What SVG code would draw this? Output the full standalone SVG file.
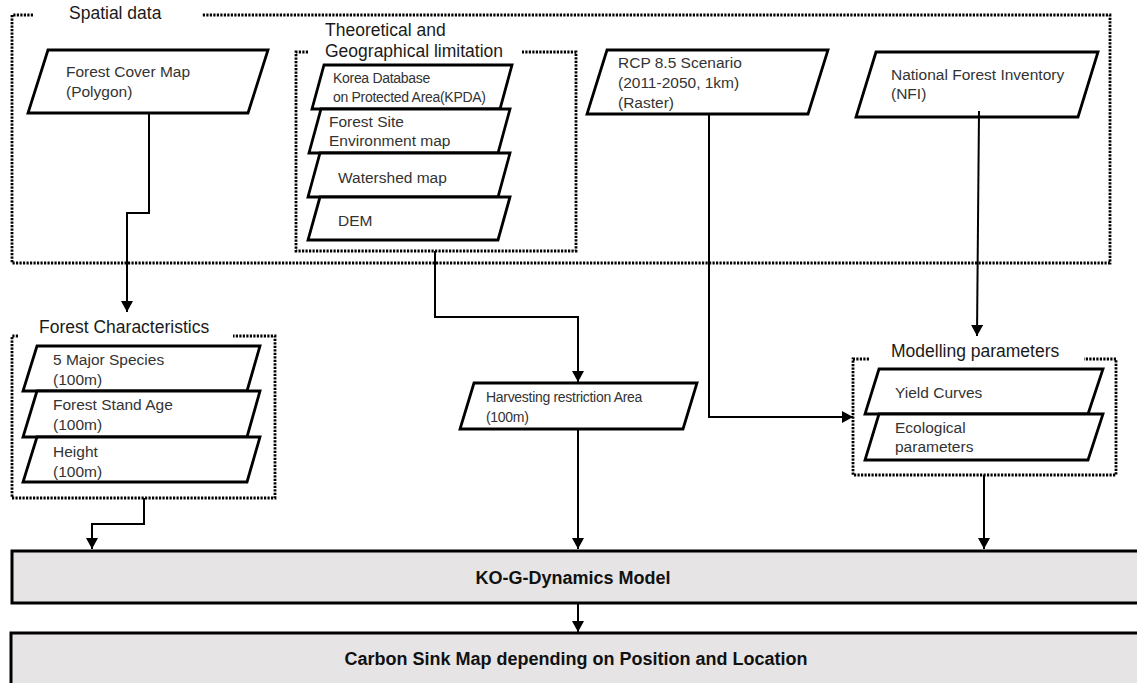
<svg xmlns="http://www.w3.org/2000/svg" width="1137" height="683" viewBox="0 0 1137 683">
<style>
.grp{fill:none;stroke:#000;stroke-width:2.8;stroke-dasharray:2.2 1.3}
.par{fill:#fff;stroke:#000;stroke-width:2.8;stroke-linejoin:miter}
.ttl{font-family:"Liberation Sans",Arial,sans-serif;font-size:17.5px;fill:#1a1a1a}
.t{font-family:"Liberation Sans",Arial,sans-serif;font-size:15.5px;fill:#333}
.ts{font-family:"Liberation Sans",Arial,sans-serif;font-size:14px;fill:#333;letter-spacing:-0.3px}
.main{fill:#e6e4e5;stroke:#000;stroke-width:3}
.tb{font-family:"Liberation Sans",Arial,sans-serif;font-size:18px;font-weight:bold;fill:#111;text-anchor:middle}
.c{fill:none;stroke:#000;stroke-width:2}
</style>
<defs>
<marker id="arr" markerUnits="userSpaceOnUse" markerWidth="11" markerHeight="12" refX="11" refY="6" orient="auto">
<path d="M0,0 L11,6 L0,12 z" fill="#000"/>
</marker>
</defs>

<g id="spatial-data">
<path class="grp" d="M33 15 H12 V263 H1110 V15 H202"/>
<text class="ttl" x="69" y="19">Spatial data</text>
</g>

<g id="forest-cover-map">
<polygon class="par" points="48,50 268,50 248,113 28,113"/>
<text class="t" x="66" y="77">Forest Cover Map</text>
<text class="t" x="66" y="97">(Polygon)</text>
</g>

<g id="theoretical-geographical-limitation">
<path class="grp" d="M308 52 H296 V251 H576 V52 H522"/>
<text class="ttl" x="325" y="36">Theoretical and</text>
<text class="ttl" x="325" y="57">Geographical limitation</text>
</g>

<g id="kpda">
<polygon class="par" points="324,65 512,65 500,109 312,109"/>
<text class="ts" x="333" y="83">Korea Database</text>
<text class="ts" x="333" y="102">on Protected Area(KPDA)</text>
</g>

<g id="forest-site-map">
<polygon class="par" points="321,109 510,109 498,153 309,153"/>
<text class="t" x="329" y="127">Forest Site</text>
<text class="t" x="329" y="146">Environment map</text>
</g>

<g id="watershed-map">
<polygon class="par" points="320,153 510,153 498,197 308,197"/>
<text class="t" x="338" y="183">Watershed map</text>
</g>

<g id="dem">
<polygon class="par" points="320,197 510,197 498,240 308,240"/>
<text class="t" x="338" y="226">DEM</text>
</g>

<g id="rcp-scenario">
<polygon class="par" points="607,50 828,50 808,114 587,114"/>
<text class="t" x="618" y="68">RCP 8.5 Scenario</text>
<text class="t" x="618" y="88">(2011-2050, 1km)</text>
<text class="t" x="618" y="108">(Raster)</text>
</g>

<g id="nfi">
<polygon class="par" points="876,52 1098,52 1078,117 856,117"/>
<text class="t" x="891" y="80">National Forest Inventory</text>
<text class="t" x="891" y="99">(NFI)</text>
</g>

<g id="forest-characteristics">
<path class="grp" d="M18 336 H12 V498 H275 V336 H233"/>
<text class="ttl" x="39" y="333">Forest Characteristics</text>
</g>

<g id="major-species">
<polygon class="par" points="37,346 260,346 247,391 23,391"/>
<text class="t" x="53" y="365">5 Major Species</text>
<text class="t" x="53" y="385">(100m)</text>
</g>

<g id="stand-age">
<polygon class="par" points="37,391 260,391 247,437 23,437"/>
<text class="t" x="53" y="410">Forest Stand Age</text>
<text class="t" x="53" y="430">(100m)</text>
</g>

<g id="height">
<polygon class="par" points="37,437 260,437 247,482 23,482"/>
<text class="t" x="53" y="457">Height</text>
<text class="t" x="53" y="477">(100m)</text>
</g>

<g id="harvesting-restriction">
<polygon class="par" points="474,383 697,383 683,429 460,429"/>
<text class="ts" x="486" y="402">Harvesting restriction Area</text>
<text class="ts" x="486" y="422">(100m)</text>
</g>

<g id="modelling-parameters">
<path class="grp" d="M869 359 H853 V475 H1116 V359 H1084"/>
<text class="ttl" x="891" y="357">Modelling parameters</text>
</g>

<g id="yield-curves">
<polygon class="par" points="879,369 1103,369 1088,414 865,414"/>
<text class="t" x="895" y="398">Yield Curves</text>
</g>

<g id="ecological-parameters">
<polygon class="par" points="879,414 1103,414 1088,460 865,460"/>
<text class="t" x="895" y="433">Ecological</text>
<text class="t" x="895" y="452">parameters</text>
</g>

<g id="ko-g-dynamics">
<rect class="main" x="12" y="551" width="1140" height="52"/>
<text class="tb" x="573" y="584">KO-G-Dynamics Model</text>
</g>

<g id="carbon-sink-map">
<rect class="main" x="11" y="633" width="1140" height="70"/>
<text class="tb" x="576" y="665">Carbon Sink Map depending on Position and Location</text>
</g>

<g id="connectors">
<path class="c" d="M149 113 V213 H127 V312" marker-end="url(#arr)"/>
<path class="c" d="M435 251 V317 H578 V382" marker-end="url(#arr)"/>
<path class="c" d="M709 114 V417 H853" marker-end="url(#arr)"/>
<path class="c" d="M979 111 L977 336" marker-end="url(#arr)"/>
<path class="c" d="M144 498 V524 H92 V549" marker-end="url(#arr)"/>
<path class="c" d="M578 429 V549" marker-end="url(#arr)"/>
<path class="c" d="M984 475 V549" marker-end="url(#arr)"/>
<path class="c" d="M578 603 V632" marker-end="url(#arr)"/>
</g>
</svg>
